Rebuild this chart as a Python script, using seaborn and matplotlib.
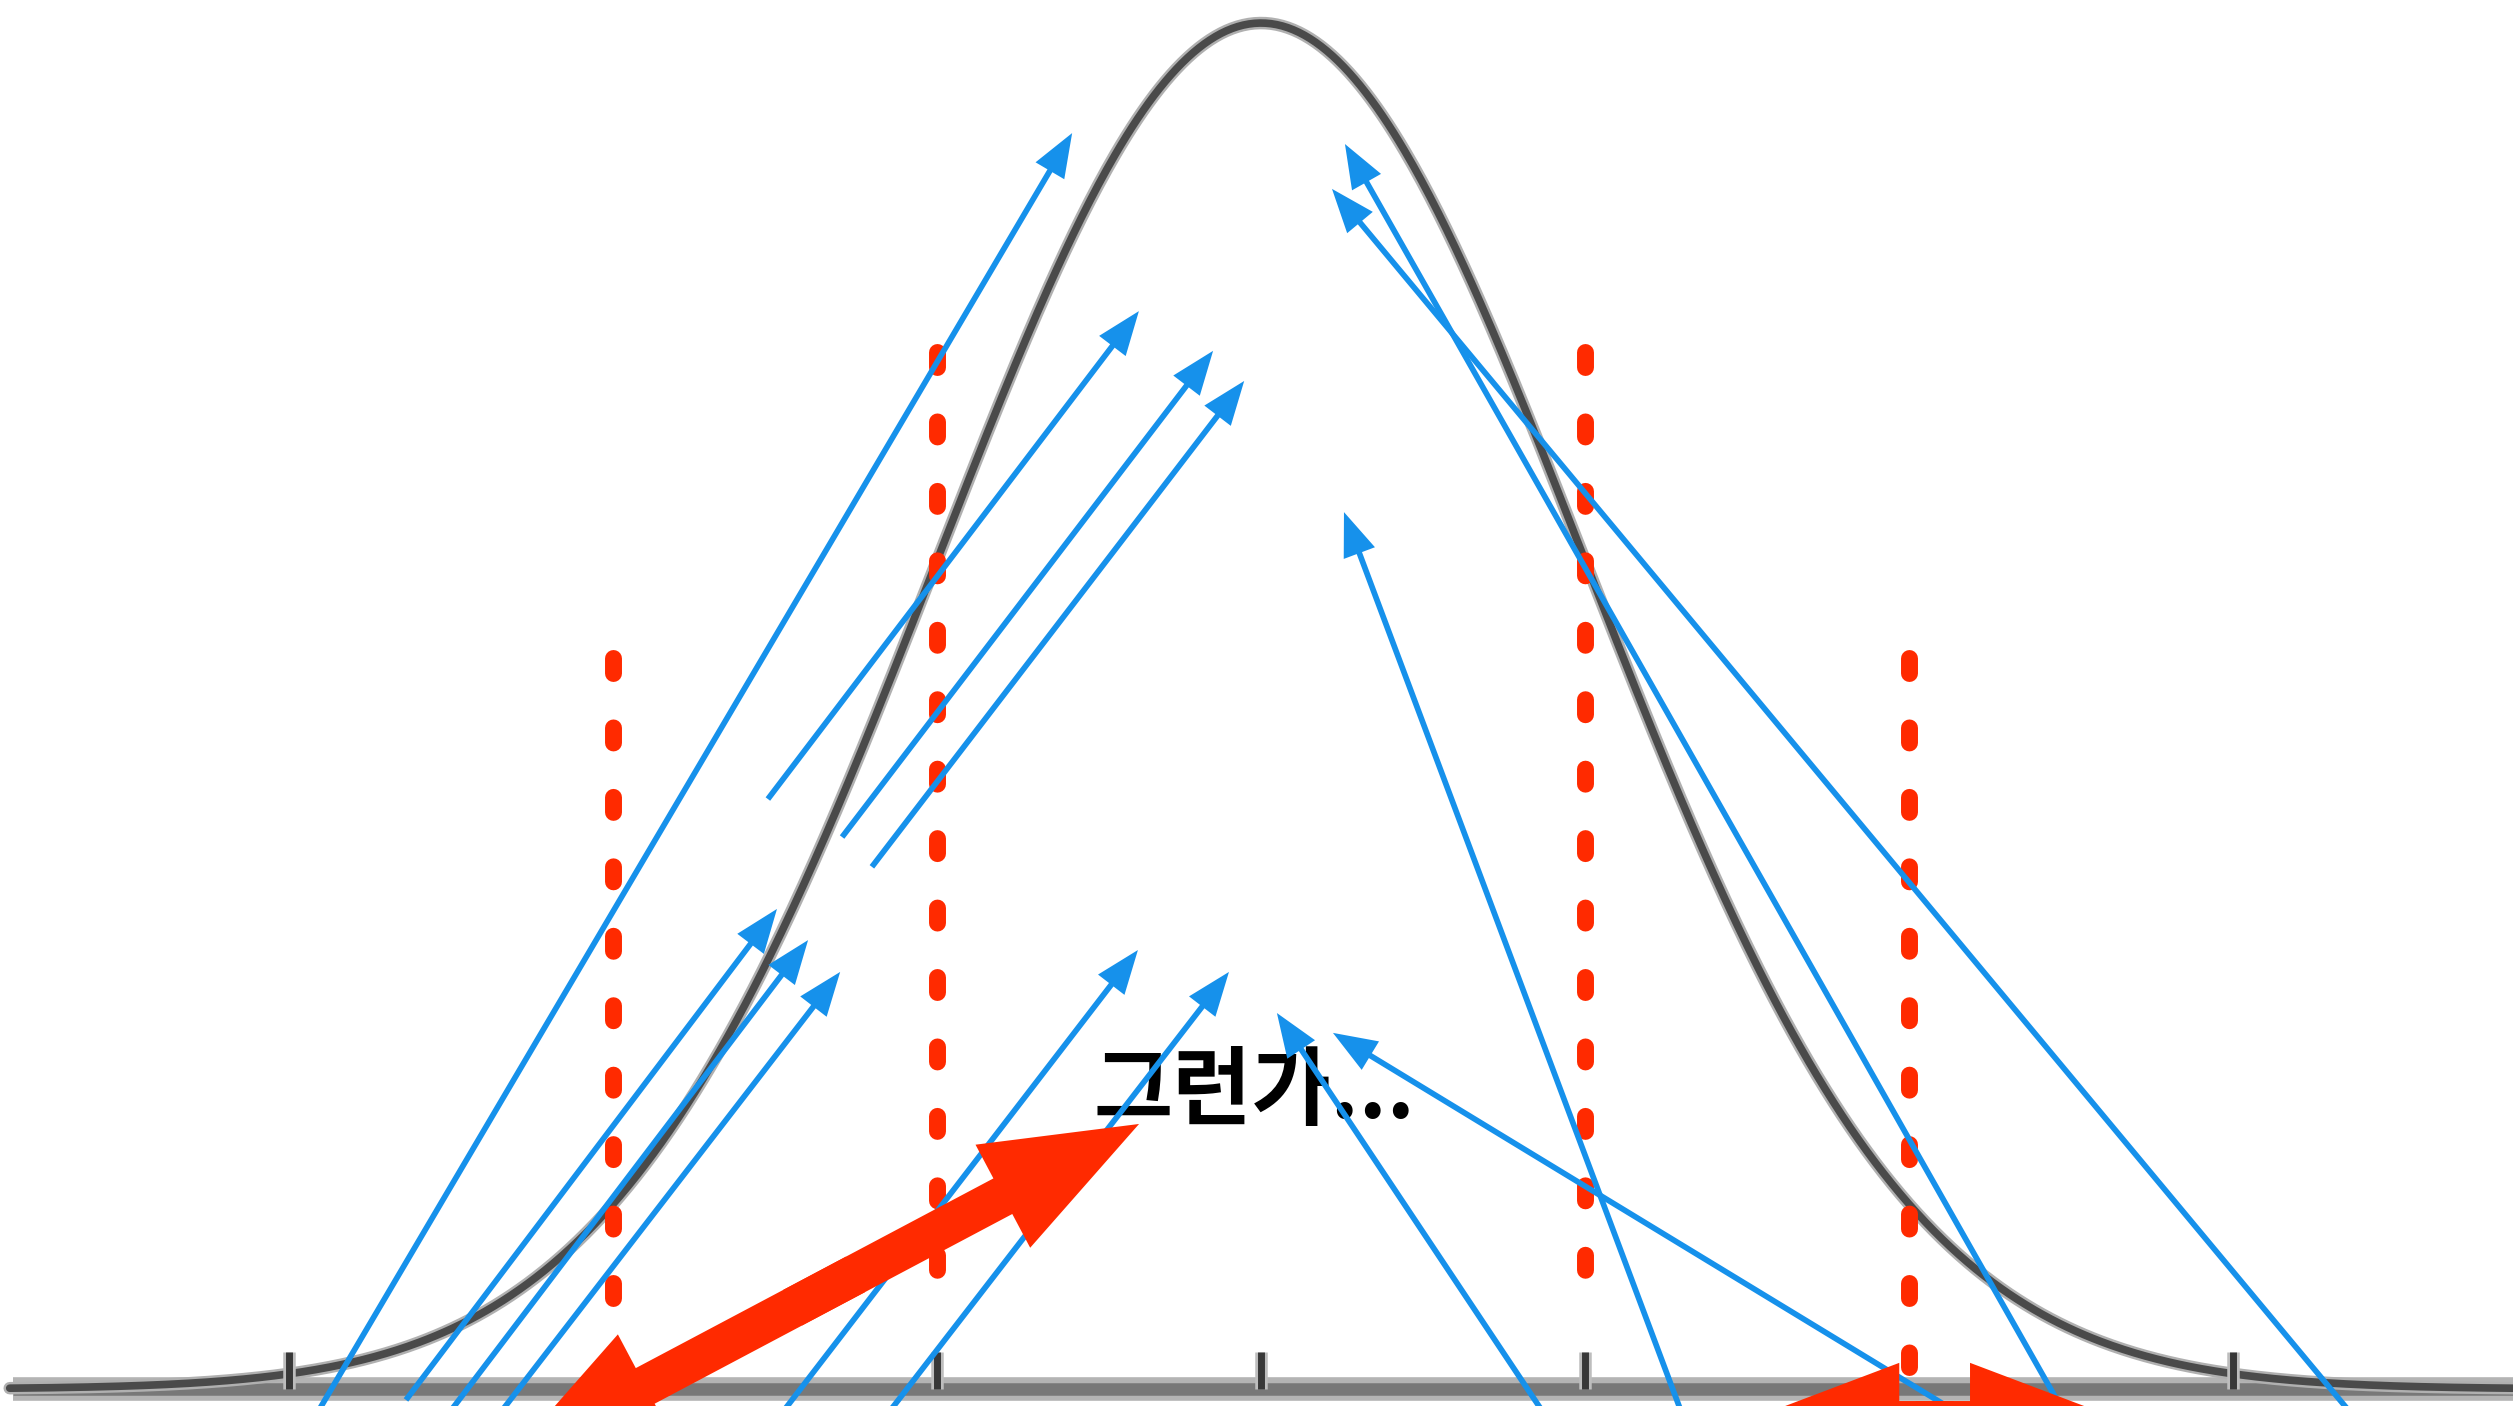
import numpy as np
import pandas as pd
import matplotlib
matplotlib.use("Agg")
import matplotlib.pyplot as plt
import seaborn as sns
from matplotlib.patches import FancyArrowPatch, ArrowStyle

# ---------------- data ----------------
MU, SIGMA = 0.0, 1.0                      # standard normal curve
x_range = (-3.892, 3.864)                 # visible span in sigma units
y_range = (-0.00497, 0.40567)             # visible span in density units

tick_positions = [-3, -1, 0, 1, 3]
tick_height = 0.0108

cut_positions = [-2, -1, 1, 2]            # red dashed cut lines
cut_tops = [0.2136, 0.3030, 0.3030, 0.2136]
cut_bottoms = [0.0063, 0.0327, 0.0327, 0.0063]

label_text = "그런가..."
label_x, label_y = -0.022, 0.0866

# blue arrows: tail -> head
blue_tail_x = [-2.944, -1.522, -1.293, -1.201, -2.639, -2.546, -2.389, -1.519, -1.191,
               0.907, 2.238, 1.318, 2.509, 3.407]
blue_tail_y = [-0.0120, 0.1723, 0.1612, 0.1525, -0.0032, -0.0120, -0.0120, -0.0120, -0.0120,
               -0.0120, -0.0120, -0.0120, -0.0120, -0.0120]
blue_head_x = [-0.583, -0.377, -0.148, -0.052, -1.494, -1.398, -1.299, -0.380, -0.099,
               0.049, 0.222, 0.256, 0.259, 0.219]
blue_head_y = [0.3668, 0.3148, 0.3032, 0.2944, 0.1402, 0.1311, 0.1218, 0.1282, 0.1218,
               0.1098, 0.1040, 0.2561, 0.3636, 0.3505]

# red double-headed arrows: end A <-> end B
red_a_x = [-2.321, 1.494]
red_a_y = [-0.0202, -0.0094]
red_b_x = [-0.3765, 2.664]
red_b_y = [0.0774, -0.0094]

# ---------------- style ----------------
BLUE = "#1691EB"
RED = "#FF2A00"
CURVE = "#4a4a4a"

sns.set_theme(style="white")
plt.rcParams["font.family"] = ["Noto Sans CJK KR", "DejaVu Sans"]
plt.rcParams["lines.scale_dashes"] = False

fig = plt.figure(figsize=(25.13, 14.06), dpi=100)
ax = fig.add_axes([0, 0, 1, 1])
ax.set_facecolor("white")

# baseline
ax.axhline(0, color="#b4b4b4", lw=17, zorder=1, solid_capstyle="butt", xmin=0.005)
ax.axhline(0, color="#787878", lw=9, zorder=1.1, solid_capstyle="butt", xmin=0.005)

# normal curve
curve = pd.DataFrame({"x": np.linspace(x_range[0] + 0.03, x_range[1], 900)})
curve["pdf"] = np.exp(-0.5 * ((curve["x"] - MU) / SIGMA) ** 2) / (SIGMA * np.sqrt(2 * np.pi))
sns.lineplot(data=curve, x="x", y="pdf", ax=ax, color="#b0b0b0", lw=9, zorder=2)
sns.lineplot(data=curve, x="x", y="pdf", ax=ax, color=CURVE, lw=5.5, zorder=2.1)

# ticks
for t in tick_positions:
    ax.plot([t, t], [0, tick_height], color="#bdbdbd", lw=9, zorder=2.2, solid_capstyle="butt")
    ax.plot([t, t], [0, tick_height], color="#383838", lw=5, zorder=2.3, solid_capstyle="butt")

# red dashed cut lines (drawn from top down so the pattern starts at the top)
for xc, yt, yb in zip(cut_positions, cut_tops, cut_bottoms):
    ax.plot([xc, xc], [yt, yb], color=RED, lw=12.2, linestyle=(0, (10.8, 39.2)),
            dash_capstyle="round", zorder=3)

# label
ax.text(label_x, label_y, label_text, fontsize=62, fontweight="bold", color="black",
        ha="center", va="center", zorder=4)

# blue arrows
blue_style = ArrowStyle.Simple(head_length=31.5, head_width=24, tail_width=4.1)
for tx, ty, hx, hy in zip(blue_tail_x, blue_tail_y, blue_head_x, blue_head_y):
    ax.add_patch(FancyArrowPatch((tx, ty), (hx, hy), arrowstyle=blue_style, mutation_scale=1,
                                 shrinkA=0, shrinkB=0, color=BLUE, lw=0, zorder=5))

# red double arrows (two overlapping halves, one head each)
red_style = ArrowStyle.Simple(head_length=111, head_width=84, tail_width=29)
for ax_, ay_, bx_, by_ in zip(red_a_x, red_a_y, red_b_x, red_b_y):
    for (sx, sy), (ex, ey) in [((bx_, by_), (ax_, ay_)), ((ax_, ay_), (bx_, by_))]:
        start = (sx + 0.45 * (ex - sx), sy + 0.45 * (ey - sy))
        ax.add_patch(FancyArrowPatch(start, (ex, ey), arrowstyle=red_style, mutation_scale=1,
                                     shrinkA=0, shrinkB=0, color=RED, lw=0, zorder=6))

ax.set_xlim(*x_range)
ax.set_ylim(*y_range)
ax.axis("off")

fig.savefig("out.png", dpi=100, facecolor="white")
